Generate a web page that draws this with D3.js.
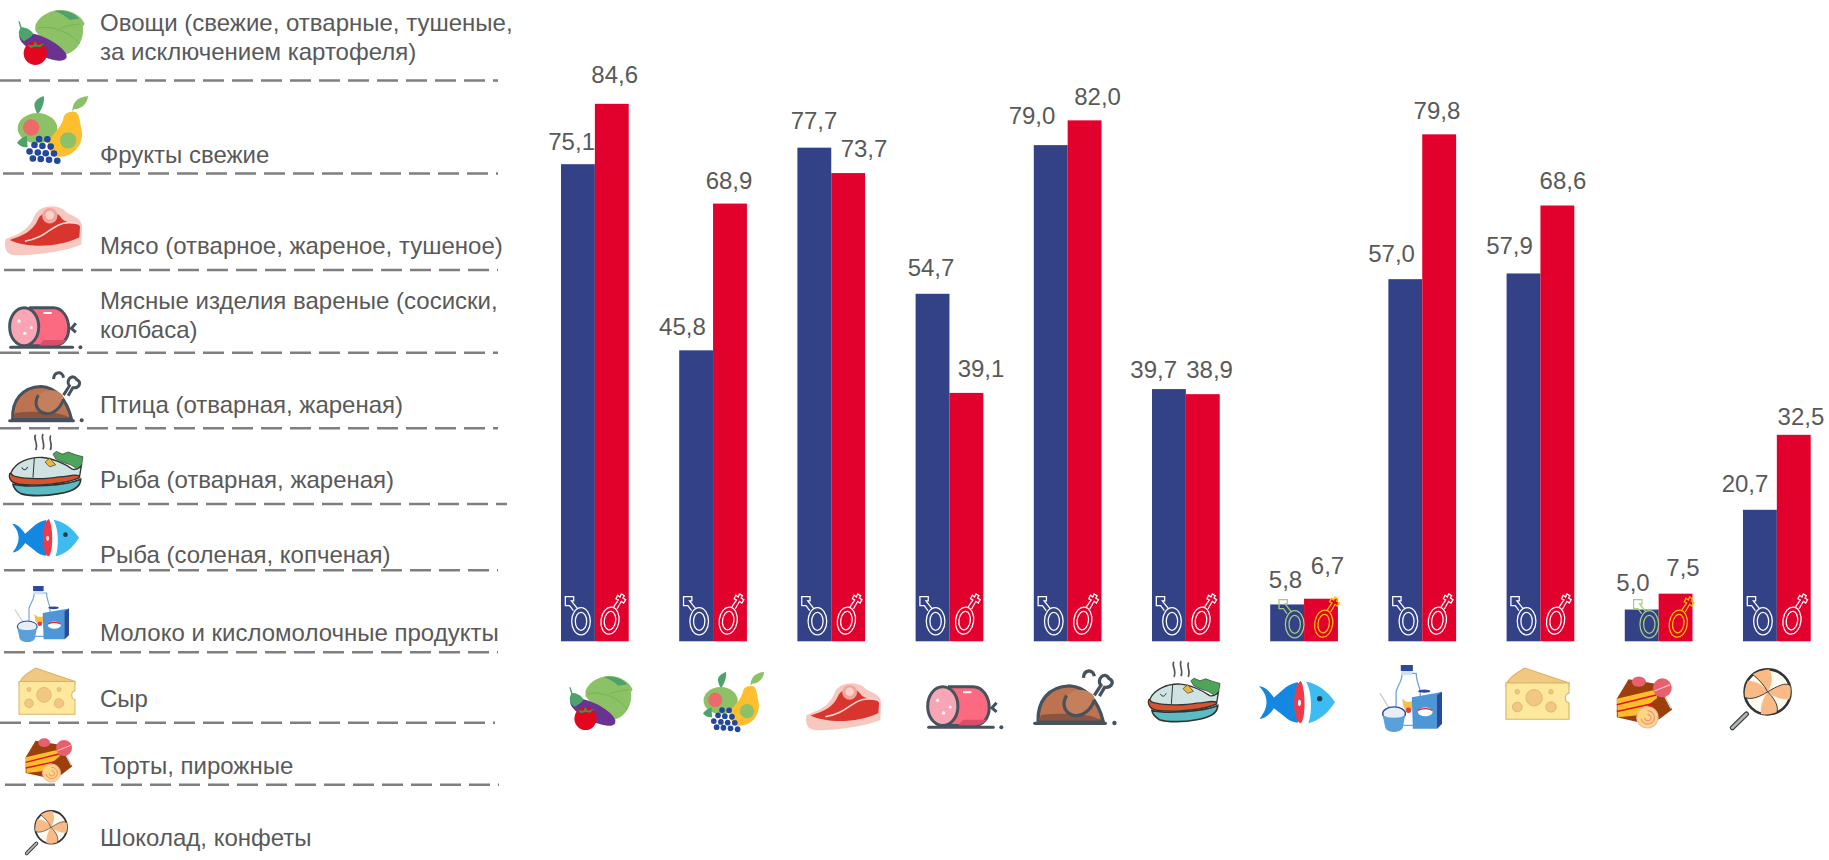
<!doctype html>
<html>
  <head>
    <meta charset="utf-8">
    <script src="https://cdnjs.cloudflare.com/ajax/libs/d3/7.8.5/d3.min.js"></script>
    <style>
      html, body { margin: 0; padding: 0; background: #fff; }
      svg { display: block; }
      text { font-family: "Liberation Sans", Arial, sans-serif; fill: #595959; }
      .value { font-size: 24px; text-anchor: middle; }
      .name { font-size: 24px; }
      .dash { stroke: #7f7f7f; stroke-width: 2.6px; stroke-dasharray: 21 8; fill: none; }
      .sign { fill: none; stroke-width: 3.8px; }
    </style>
  </head>
  <body>
    <svg id="chart" width="1829" height="860">
      <defs>
        <g id="ico-veg">
          <path d="M55,45 C70,12 105,0 135,0 C170,2 195,22 203,42 L198,48 C202,85 185,120 150,132 C120,138 95,110 55,62Z" fill="#8cc265"/>
          <path d="M112,3 C140,-2 172,8 186,26 L158,30 C146,18 130,10 112,3Z" fill="#4da36b"/>
          <path d="M60,55 C100,45 150,60 188,102 M130,55 C150,48 170,42 190,42" stroke="#6cab52" stroke-width="2" fill="none"/>
          <ellipse cx="78" cy="110" rx="78" ry="27" transform="rotate(26 78 110)" fill="#6a3391"/>
          <path d="M4,34 L10,55 C0,70 8,88 22,94 C34,84 46,82 48,70 C40,58 24,52 14,52 L8,34Z" fill="#4da36b"/>
          <circle cx="55" cy="130" r="35" fill="#e2061f"/>
          <path d="M55,94 L62,106 L82,100 L70,112 L55,110 L40,114 L30,104 L48,106Z" fill="#3f8f4f"/>
        </g>
        <g id="ico-fruit">
          <path d="M53,31 C50,16 66,5 81,0 C84,18 76,40 63,56 C58,48 55,40 53,31Z" fill="#4da36b"/>
          <ellipse cx="62" cy="98" rx="60" ry="46" fill="#8cc265"/>
          <circle cx="43" cy="96" r="25" fill="#ed6a6a"/>
          <path d="M165,48 C190,40 190,80 195,100 C205,135 180,185 130,185 C100,185 85,150 100,130 C120,105 135,90 140,70 C143,55 150,50 165,48Z" fill="#fdbf2d"/>
          <circle cx="155" cy="135" r="25" fill="#8cc265"/>
          <path d="M168,44 L182,22" stroke="#4da36b" stroke-width="3" fill="none"/>
          <path d="M168,40 C170,14 190,2 215,0 C214,22 196,42 168,40Z" fill="#8cc265"/>
          <path d="M0,142 C8,132 20,124 30,122 L32,155 C20,158 8,152 0,142Z" fill="#4da36b"/>
          <g fill="#23479b">
            <circle cx="67" cy="131" r="10"/><circle cx="92" cy="132" r="10"/>
            <circle cx="53" cy="149" r="10"/><circle cx="77" cy="152" r="10"/><circle cx="102" cy="154" r="10"/>
            <circle cx="38" cy="169" r="10"/><circle cx="63" cy="172" r="10"/><circle cx="87" cy="174" r="10"/><circle cx="112" cy="175" r="10"/>
            <circle cx="48" cy="190" r="10"/><circle cx="72" cy="192" r="10"/><circle cx="97" cy="194" r="10"/><circle cx="122" cy="197" r="10"/>
          </g>
        </g>
        <g id="ico-meat">
          <path d="M2,102 C36,88 72,78 90,30 C102,4 150,-6 178,15 C196,36 226,30 232,62 L230,118 C190,136 100,150 36,150 C8,150 0,138 0,112Z" fill="#f6c8bf"/>
          <path d="M14,104 C52,92 84,80 100,42 C112,16 158,14 172,42 C190,58 216,48 226,64 L224,96 C160,128 64,128 14,104Z" fill="#d9352f"/>
          <path d="M60,108 C110,100 125,78 160,60 C180,50 205,52 222,56" stroke="#f9d8d2" stroke-width="5" fill="none"/>
          <circle cx="135" cy="32" r="23" fill="#f3a59d"/>
          <circle cx="135" cy="30" r="13" fill="#f9d2cc"/>
        </g>
        <g id="ico-sausage">
          <path d="M70,8 H140 C170,8 188,40 188,70 C188,100 170,122 140,122 H70Z" fill="#fb6a80" stroke="#46535e" stroke-width="9"/>
          <path d="M110,105 H180 C170,118 155,122 140,122 H95Z" fill="#d94f69"/>
          <ellipse cx="50" cy="65" rx="45" ry="57" fill="#f8a5b5" stroke="#46535e" stroke-width="9"/>
          <circle cx="34" cy="48" r="5" fill="#fff"/><circle cx="72" cy="68" r="4" fill="#fff"/><circle cx="52" cy="85" r="5" fill="#fff"/>
          <path d="M110,24 H135" stroke="#fff" stroke-width="6"/>
          <path d="M8,127 H200" stroke="#46535e" stroke-width="9" stroke-linecap="round"/>
          <circle cx="224" cy="127" r="6" fill="#46535e"/>
          <path d="M210,55 L196,70 L210,82" stroke="#46535e" stroke-width="9" fill="none"/>
        </g>
        <g id="ico-chicken">
          <path d="M14,142 C12,90 40,48 100,46 C145,48 178,85 192,142Z" fill="#bd7350" stroke="#46535e" stroke-width="9"/>
          <path d="M22,125 C60,120 160,118 186,140 H16Z" fill="#8c5340"/>
          <path d="M92,72 C125,45 165,60 168,80 C162,110 130,132 105,124 C80,114 80,90 92,72Z" fill="#c4805c"/>
          <path d="M92,72 C78,95 85,122 115,127 C135,130 158,112 168,85" stroke="#46535e" stroke-width="9" fill="none"/>
          <path d="M168,72 L186,44 C172,30 196,4 208,26 C224,34 216,52 196,50 L182,74" stroke="#46535e" stroke-width="9" fill="none"/>
          <path d="M138,24 C140,0 165,0 168,20" stroke="#46535e" stroke-width="9" fill="none"/>
          <path d="M5,148 H198" stroke="#46535e" stroke-width="9" stroke-linecap="round"/>
          <circle cx="223" cy="147" r="6" fill="#46535e"/>
        </g>
        <g id="ico-dish">
          <path d="M80,2 C70,14 90,26 80,48 M102,0 C94,14 110,26 102,46 M125,4 C117,18 133,28 124,48" stroke="#555" stroke-width="5" fill="none"/>
          <path d="M12,150 C50,160 170,155 215,135 C215,160 190,172 150,178 C110,186 60,186 35,178 C22,170 14,162 12,150Z" fill="#5cbcc4" stroke="#333" stroke-width="5"/>
          <path d="M2,118 C-2,135 10,148 30,150 C80,155 170,150 212,130 L205,110 L40,110Z" fill="#d9532c" stroke="#333" stroke-width="4"/>
          <path d="M6,115 C20,85 60,68 100,70 C130,72 170,90 190,105 C200,108 212,100 217,95 L212,125 C190,118 180,128 150,128 C110,136 50,134 25,128 C12,126 6,122 6,115Z" fill="#cfe3e3" stroke="#333" stroke-width="4"/>
          <path d="M76,72 L72,130 M38,100 C44,110 52,108 56,98" stroke="#333" stroke-width="3" fill="none"/>
          <path d="M108,84 L122,72 L140,92 L122,98Z" fill="#e8b93a" stroke="#333" stroke-width="2"/>
          <path d="M132,60 L142,52 L160,60 L178,54 L200,62 L222,68 L218,92 L205,104 L185,92 L160,84 L140,74Z" fill="#4ea55a" stroke="#333" stroke-width="2"/>
        </g>
        <g id="ico-fish">
          <path d="M0,14 C16,14 28,28 40,44 L70,18 C80,10 92,5 104,3 L104,110 C92,110 78,104 68,94 L40,72 C28,90 14,100 2,100 C14,84 20,72 20,56 C20,40 12,26 0,14Z" fill="#1488e0"/>
          <path d="M112,0 C124,20 126,95 112,112 C100,112 94,85 94,56 C94,30 100,5 112,0Z" fill="#ee3a4b"/>
          <ellipse cx="108" cy="58" rx="4" ry="8" fill="#fff"/>
          <path d="M126,2 C160,8 185,30 203,56 C185,85 160,106 132,112 C142,85 142,30 126,2Z" fill="#3dbcf2"/>
          <circle cx="162" cy="47" r="7" fill="#2b3a4a"/>
        </g>
        <g id="ico-milk">
          <path d="M66,25 H108 C108,50 118,62 120,80 V180 H48 V80 C52,62 66,50 66,25Z" fill="#fff" stroke="#6fa8dc" stroke-width="4"/>
          <rect x="62" y="0" width="36" height="18" fill="#2a4a9b"/>
          <path d="M64,18 H96 V30 H64Z" fill="#cfe2f3"/>
          <path d="M66,100 L78,110 H92 L102,100 L100,125 L84,145 L70,125Z" fill="#f6c04a"/>
          <circle cx="85" cy="135" r="8" fill="#e2433f"/>
          <path d="M95,96 L165,84 L185,80 V175 L170,190 H98Z" fill="#4d97d6"/>
          <path d="M170,90 L185,80 V175 L170,190Z" fill="#2a4a9b"/>
          <ellipse cx="132" cy="78" rx="18" ry="5" fill="#2a4a9b"/>
          <ellipse cx="135" cy="140" rx="22" ry="13" fill="#fff"/>
          <path d="M114,136 C122,128 148,128 156,136" stroke="#d9252f" stroke-width="4" fill="none"/>
          <path d="M0,85 L28,130" stroke="#cccccc" stroke-width="4"/>
          <ellipse cx="42" cy="145" rx="34" ry="20" fill="#e8eef7" stroke="#2a4a9b" stroke-width="4"/>
          <path d="M8,150 C24,160 60,160 75,150 L68,188 C60,204 24,204 16,188Z" fill="#5aa0dc"/>
        </g>
        <g id="ico-cheese">
          <path d="M0,45 C8,25 30,12 50,0 L168,40 V48 H0Z" fill="#f0c881" stroke="#dcb36b" stroke-width="3"/>
          <path d="M0,40 H168 V68 C155,70 155,92 168,94 V138 H0Z" fill="#fde89d" stroke="#dcb36b" stroke-width="3"/>
          <circle cx="75" cy="80" r="22" fill="#f0c881" stroke="#d9ae6a" stroke-width="2"/>
          <circle cx="30" cy="105" r="13" fill="#f0c881" stroke="#d9ae6a" stroke-width="2"/>
          <circle cx="120" cy="105" r="14" fill="#f0c881" stroke="#d9ae6a" stroke-width="2"/>
          <circle cx="30" cy="64" r="6" fill="#f0c881" stroke="#d9ae6a" stroke-width="2"/>
          <circle cx="120" cy="64" r="6" fill="#f0c881" stroke="#d9ae6a" stroke-width="2"/>
        </g>
        <g id="ico-cake">
          <path d="M2,58 L32,8 L105,20 L143,85 L110,110 L60,118 L2,105Z" fill="#9c3f0d"/>
          <path d="M2,58 L100,35 L105,55 L50,100 L5,105Z" fill="#fcbd2b"/>
          <path d="M2,73 L102,48 M2,90 L95,70" stroke="#e2131f" stroke-width="4" fill="none"/>
          <ellipse cx="58" cy="14" rx="18" ry="13" fill="#e8606d"/>
          <path d="M118,40 L140,82" stroke="#cfcfcf" stroke-width="4"/>
          <circle cx="118" cy="30" r="24" fill="#e8606d"/>
          <path d="M98,38 L138,22" stroke="#f9c4c4" stroke-width="3"/>
          <circle cx="80" cy="105" r="27" fill="#fdd77f" stroke="#f5b3b3" stroke-width="3"/>
          <path d="M80,88 A17,17 0 1 1 64,108 M80,98 A8,8 0 1 1 73,106" stroke="#f08a8a" stroke-width="3" fill="none"/>
        </g>
        <g id="ico-candy">
          <path d="M5,130 L35,100" stroke="#33383a" stroke-width="11" stroke-linecap="round"/>
          <path d="M5,130 L35,100" stroke="#b3b6ad" stroke-width="6" stroke-linecap="round"/>
          <circle cx="80" cy="52" r="49" fill="#fdfaf0" stroke="#2f3437" stroke-width="5.5"/>
          <g fill="#f9ba85">
            <path d="M80,52 C72,35 55,22 48,14 C60,6 74,3 84,3 C92,18 90,36 80,52Z"/>
            <path d="M80,52 C100,40 118,30 128,38 C130,48 130,58 126,68 C110,70 92,62 80,52Z"/>
            <path d="M80,52 C95,66 104,84 100,96 C88,102 76,102 66,100 C64,84 70,66 80,52Z"/>
            <path d="M80,52 C62,64 42,70 32,64 C30,52 32,40 38,28 C54,28 72,38 80,52Z"/>
          </g>
          <path d="M80,52 C72,35 58,22 48,14 M80,52 C100,40 118,30 128,38 M80,52 C95,66 104,84 100,96 M80,52 C62,64 42,70 32,64" stroke="#2f3437" stroke-width="2" fill="none"/>
        </g>
        <g id="sign-male">
          <ellipse cx="60" cy="-60" rx="28" ry="41"/>
          <ellipse cx="60" cy="-60" rx="17" ry="27"/>
          <path d="M37,-92 L26,-107 H13 V-134 H38 V-121 H31 L50,-97"/>
        </g>
        <g id="sign-female">
          <ellipse cx="147" cy="-62" rx="27" ry="41" transform="rotate(8 147 -62)"/>
          <ellipse cx="147" cy="-62" rx="17" ry="28" transform="rotate(8 147 -62)"/>
          <path d="M158,-103 L172,-124 L165,-128 L170,-138 L177,-133 L181,-142 L190,-137 L186,-130 L194,-125 L188,-115 L181,-120 L168,-97"/>
        </g>
      </defs>
    </svg>

    <script>
      const categories = ["veg", "fruit", "meat", "sausage", "chicken", "dish", "fish", "milk", "cheese", "cake", "candy"];
      // bar heights as drawn; the fifth blue bar stands lower than its printed 79,0
      const maleValues = [75.1, 45.8, 77.7, 54.7, 78.1, 39.7, 5.8, 57.0, 57.9, 5.0, 20.7];
      const femaleValues = [84.6, 68.9, 73.7, 39.1, 82.0, 38.9, 6.7, 79.8, 68.6, 7.5, 32.5];
      const maleLabels = ["75,1", "45,8", "77,7", "54,7", "79,0", "39,7", "5,8", "57,0", "57,9", "5,0", "20,7"];
      const femaleLabels = ["84,6", "68,9", "73,7", "39,1", "82,0", "38,9", "6,7", "79,8", "68,6", "7,5", "32,5"];
      const foodNames = [
        ["Овощи (свежие, отварные, тушеные,", "за исключением картофеля)"],
        ["Фрукты свежие"],
        ["Мясо (отварное, жареное, тушеное)"],
        ["Мясные изделия вареные (сосиски,", "колбаса)"],
        ["Птица (отварная, жареная)"],
        ["Рыба (отварная, жареная)"],
        ["Рыба (соленая, копченая)"],
        ["Молоко и кисломолочные продукты"],
        ["Сыр"],
        ["Торты, пирожные"],
        ["Шоколад, конфеты"]
      ];

      // hand placement
      const nameBaselines = [31, 163, 254, 309, 413, 488, 563, 641, 707, 774, 846];
      const dashLines = [[0, 498, 80.5], [3, 498, 173.5], [4, 498, 270], [0, 498, 352.7], [0, 498, 428.3],
        [3, 507, 504], [4, 498, 570.3], [4, 498, 652.3], [0, 495, 722.7], [5, 499, 784.7]];
      const maleNudge = [[-6.3, -23], [-13.7, -24], [-0.3, -27], [-1.5, -26], [-18.7, -29.5], [-15.2, -20], [-1.6, -25], [-13.7, -26], [-14, -27.5], [-8.7, -27.5], [-14.9, -26]];
      const femaleNudge = [[2.9, -29], [-1, -23], [15.8, -25], [14.6, -24], [13, -23.5], [6.8, -25], [6.5, -33], [-2.2, -23.5], [5.6, -25], [7.4, -26], [7.2, -18]];
      const iconSizes = [[204, 165], [215, 210], [232, 152], [235, 135], [230, 158], [225, 185], [203, 114], [185, 200], [168, 140], [145, 132], [132, 135]];
      const listIcons = [[17, 10, 85, 65], [17, 96, 88, 165], [5, 205, 82, 256], [8, 305, 84, 350], [8, 371, 84, 424], [9, 434, 84, 496],
        [12, 519, 79, 557], [15, 586, 69, 642], [19, 668, 75, 715], [25, 738, 73, 782], [25, 810, 68, 855]];
      const rowIcons = [[568, 676, 633, 730], [703, 672, 764, 733], [806, 682, 881, 731], [926, 684, 1005, 730], [1033, 669, 1117, 727], [1148, 661, 1221, 722],
        [1259, 681, 1335, 724], [1380, 665, 1442, 732], [1506, 668, 1569, 720], [1616, 676, 1673, 728], [1730, 668, 1792, 730]];

      const svg = d3.select("#chart");

      const x = d3.scaleBand().domain(categories).range([561, 1810.7]).paddingInner(0.427);
      const xSex = d3.scaleBand().domain(["male", "female"]).range([0, x.bandwidth()]);
      const y = d3.scaleLinear().domain([0, 100]).range([641.3, 6]);

      // dashed rules and names on the left
      svg.append("g").selectAll("line")
        .data(dashLines).enter()
        .append("line")
          .attr("class", "dash")
          .attr("x1", d => d[0])
          .attr("x2", d => d[1])
          .attr("y1", d => d[2])
          .attr("y2", d => d[2]);

      svg.append("g").selectAll("text")
        .data(foodNames).enter()
        .append("text")
          .attr("class", "name")
          .attr("y", (d, i) => nameBaselines[i])
        .selectAll("tspan")
        .data(d => d).enter()
        .append("tspan")
          .attr("x", 100)
          .attr("dy", (d, i) => i ? 29 : 0)
          .text(d => d);

      // bars
      const sexes = [
        { key: "male", values: maleValues, labels: maleLabels, color: "#334186", nudge: maleNudge },
        { key: "female", values: femaleValues, labels: femaleLabels, color: "#e2002d", nudge: femaleNudge }
      ];

      sexes.forEach(s => {
        const groups = svg.append("g").selectAll("g")
          .data(categories).enter()
          .append("g");

        groups.append("rect")
          .attr("x", d => x(d) + xSex(s.key))
          .attr("width", xSex.bandwidth())
          .attr("y", (d, i) => y(s.values[i]))
          .attr("height", (d, i) => y(0) - y(s.values[i]))
          .attr("fill", s.color);

        groups.append("text")
          .attr("class", "value")
          .attr("x", (d, i) => x(d) + xSex(s.key) + xSex.bandwidth() / 2 + s.nudge[i][0])
          .attr("y", (d, i) => y(s.values[i]) + s.nudge[i][1] + 8.5)
          .text((d, i) => s.labels[i]);
      });

      // gender signs stand on the baseline of every pair
      sexes.forEach(s => {
        svg.append("g").selectAll("use")
          .data(categories).enter()
          .append("use")
            .attr("class", "sign")
            .attr("href", "#sign-" + s.key)
            .attr("stroke", (d, i) => s.values[i] >= 10 ? "#fff" : (s.key === "male" ? "#a5cf7a" : "#ffc000"))
            .attr("transform", (d, i) => {
              const short = s.values[i] < 10;
              return `translate(${x(d) + (short ? 4.5 : 0)},${y(0) + (short ? 3 : 0)}) scale(${1 / 3})`;
            });
      });

      // food icons, once in the list and once under the bars
      [listIcons, rowIcons].forEach(boxes => {
        svg.append("g").selectAll("use")
          .data(categories).enter()
          .append("use")
            .attr("href", d => "#ico-" + d)
            .attr("transform", (d, i) => {
              const b = boxes[i], size = iconSizes[i];
              return `translate(${b[0]},${b[1]}) scale(${(b[2] - b[0]) / size[0]},${(b[3] - b[1]) / size[1]})`;
            });
      });
    </script>
  </body>
</html>
